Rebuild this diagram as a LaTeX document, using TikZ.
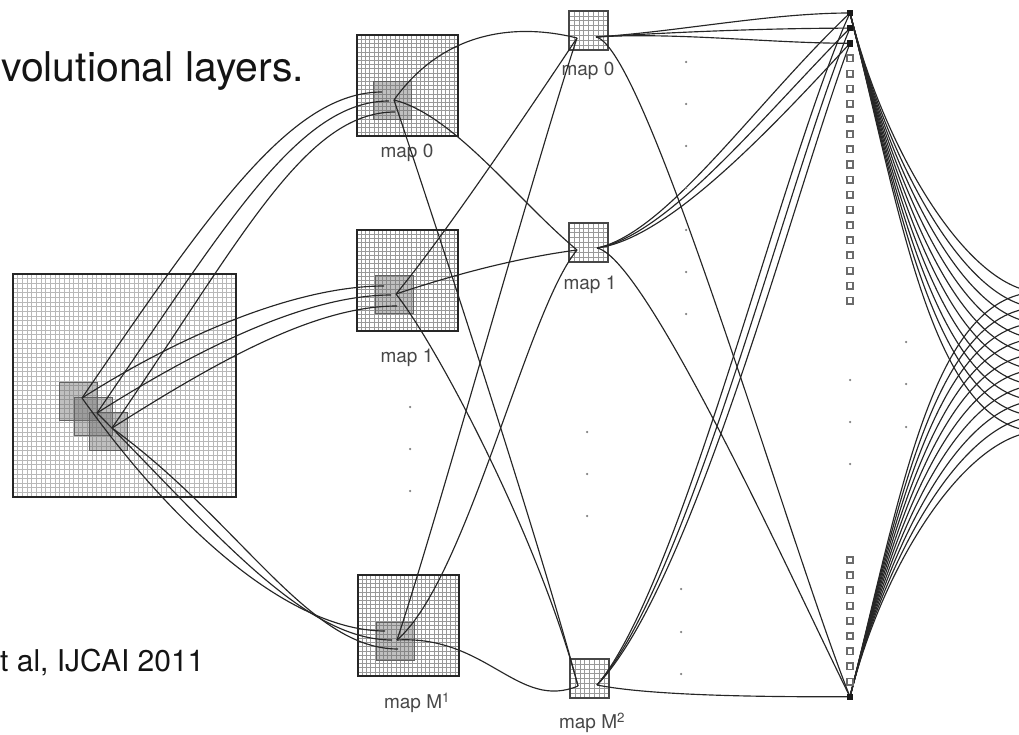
\documentclass[tikz,border=0pt]{standalone}
\usepackage{fontspec}
\setmainfont{TeX Gyre Heros}

% square filled with a fine grid: x0, y0, side, cells, line colour
\newcommand\gridsq[5]{%
  \pgfmathsetmacro\gstep{#3/#4}%
  \foreach \k in {1,...,#4}{%
    \draw[gridline, draw=#5] ({#1+\k*\gstep},#2) -- ({#1+\k*\gstep},{#2+#3});
    \draw[gridline, draw=#5] (#1,{#2+\k*\gstep}) -- ({#1+#3},{#2+\k*\gstep});
  }%
}

\begin{document}
\begin{tikzpicture}[x=1pt,y=-1pt,
  conn/.style={draw=black!85, line width=1.15pt},
  mapframe/.style={draw=black!85, line width=2.2pt},
  smallframe/.style={draw=black!72, line width=1.2pt},
  gridline/.style={line width=0.5pt},
  field/.style={fill=black!55, fill opacity=0.45, draw=black!62, line width=0.8pt},
  lbl/.style={text=black!72, inner sep=0pt, font=\fontsize{19}{19}\selectfont},
  gap/.style={fill=black!50, circle, inner sep=0pt, minimum size=2.5pt},
  unit/.style={draw=black!58, line width=1.6pt, fill=white, inner sep=0pt, minimum size=6.5pt},
  active/.style={fill=black!90, inner sep=0pt, minimum size=6.5pt},
]
\path[use as bounding box] (0,0) rectangle (1019,735);
\clip (0,0) rectangle (1019,735);

% ---------- texts ----------
\node[anchor=base west, inner sep=0pt, text=black!92, font=\fontsize{41}{41}\selectfont] (title) at (1,82) {volutional layers.};
\node[anchor=base west, inner sep=0pt, text=black!92, font=\fontsize{30}{30}\selectfont] (cite) at (0,671) {t al, IJCAI 2011};

% ---------- input image ----------
\gridsq{13}{274}{223}{48}{black!28}
\draw[mapframe] (13,274) rectangle (236,497);
\draw[field] (59,382) rectangle +(38,38);
\draw[field] (74,397) rectangle +(38,38);
\draw[field] (89,412) rectangle +(38,38);

% ---------- first convolutional layer ----------
\gridsq{357}{35}{101}{24}{black!40}
\draw[mapframe] (357,35) rectangle +(101,101);
\draw[field] (373,81) rectangle +(38,38);
\gridsq{357}{230}{101}{24}{black!40}
\draw[mapframe] (357,230) rectangle +(101,101);
\draw[field] (375,275) rectangle +(38,38);
\gridsq{358}{575}{101}{24}{black!40}
\draw[mapframe] (358,575) rectangle +(101,101);
\draw[field] (376,622) rectangle +(38,38);

\node[lbl] (la0) at (407,153) {map 0};
\node[lbl] (la1) at (407,358) {map 1};
\node[lbl] (laM) at (417,703) {map M\textsuperscript{1}};

% ---------- second convolutional layer ----------
\gridsq{569}{11}{39}{8}{black!40}
\draw[smallframe] (569,11) rectangle +(39,39);
\gridsq{569}{223}{39}{8}{black!40}
\draw[smallframe] (569,223) rectangle +(39,39);
\gridsq{570}{659}{39}{8}{black!40}
\draw[smallframe] (570,659) rectangle +(39,39);

\node[lbl] (lb0) at (588,71) {map 0};
\node[lbl] (lb1) at (590,285) {map 1};
\node[lbl] (lbM) at (592,723) {map M\textsuperscript{2}};

% ---------- connection points ----------
\coordinate (e1) at (82,398);
\coordinate (e2) at (97,413);
\coordinate (e3) at (112,428);

\coordinate (a0t1) at (382,92);  \coordinate (a0t2) at (389,101);
\coordinate (a0t3) at (395,112); \coordinate (a0s) at (394,100);
\coordinate (a1t1) at (384,286); \coordinate (a1t2) at (391,295);
\coordinate (a1t3) at (397,306); \coordinate (a1s) at (396,294);
\coordinate (aMt1) at (385,631); \coordinate (aMt2) at (392,640);
\coordinate (aMt3) at (398,649); \coordinate (aMs) at (397,640);

\coordinate (b0u) at (577,38);  \coordinate (b0v) at (596,37);
\coordinate (b1u) at (577,250); \coordinate (b1v) at (597,248);
\coordinate (bMu) at (578,686); \coordinate (bMv) at (597,685);

\foreach \k in {0,...,9}{\coordinate (r\k) at (1040,{292+15.5*\k});}

% ---------- input -> first layer ----------
\foreach \i in {1,2,3}{
  \draw[conn] (e\i) .. controls +(130,-190) and +(-90,0) .. (a0t\i);
  \draw[conn] (e\i) .. controls +(110,-70) and +(-80,0) .. (a1t\i);
}
\draw[conn] (e1) .. controls +(100,140) and +(-90,0) .. (aMt1);
\draw[conn] (e2) .. controls +(115,115) and +(-90,0) .. (aMt2);
\draw[conn] (e3) .. controls +(130,95) and +(-90,0) .. (aMt3);

% ---------- first -> second layer ----------
\draw[conn] (a0s) .. controls +(50,-70) and +(-60,-15) .. (b0u);
\draw[conn] (a0s) .. controls +(60,15) and +(-60,-50) .. (b1u);
\draw[conn] (a0s) .. controls +(40,120) and +(-40,-150) .. (bMu);
\draw[conn] (a1s) .. controls +(50,-60) and +(-40,60) .. (b0u);
\draw[conn] (a1s) .. controls +(60,-20) and +(-60,8) .. (b1u);
\draw[conn] (a1s) .. controls +(40,50) and +(-40,-150) .. (bMu);
\draw[conn] (aMs) .. controls +(40,-120) and +(-40,120) .. (b0u);
\draw[conn] (aMs) .. controls +(70,-60) and +(-50,60) .. (b1u);
\draw[conn] (aMs) .. controls +(90,-5) and +(-60,25) .. (bMu);

% ---------- output units ----------
\foreach \k in {0,...,19}{\coordinate (o\k) at (850,{13+15.15*\k});}
\foreach \k in {0,...,9}{\coordinate (p\k) at (850,{560+15.2*\k});}

% second layer -> output units
\foreach \k/\d in {0/0,1/6,2/12}{
  \draw[conn] (b0v) .. controls +(80,-5) and +(-80,0) .. (o\k);
  \draw[conn] (b1v) .. controls +(70,{-15+\d/2}) and +({-95+\d},90) .. (o\k);
  \draw[conn] (bMv) .. controls +({85+\d},-100) and +({-65+\d},140) .. (o\k);
}
\draw[conn] (b0v) .. controls +(50,10) and +(-60,-150) .. (p9);
\draw[conn] (b1v) .. controls +(50,10) and +(-50,-100) .. (p9);
\draw[conn] (bMv) .. controls +(60,12) and +(-60,0) .. (p9);

% output units -> next layer (longer curves get longer control arms)
\foreach \k in {0,...,9}{
  \pgfmathsetmacro\ta{35+2*\k}\pgfmathsetmacro\tb{140+8*\k}\pgfmathsetmacro\tc{-70-4*\k}
  \pgfmathsetmacro\ba{35+2*(9-\k)}\pgfmathsetmacro\bb{-140-8*(9-\k)}\pgfmathsetmacro\bc{-70-4*(9-\k)}
  \draw[conn] (o0) .. controls +(\ta,\tb) and +(\tc,0) .. (r\k);
  \draw[conn] (p9) .. controls +(\ba,\bb) and +(\bc,0) .. (r\k);
}

% unit markers
\foreach \k in {3,...,19}{\node[unit] (uo\k) at (o\k) {};}
\foreach \k in {0,1,2}{\node[active] (ao\k) at (o\k) {};}
\foreach \k in {0,...,8}{\node[unit] (up\k) at (p\k) {};}
\node[active] (ap9) at (p9) {};

% ---------- ellipsis dots ----------
\foreach \y in {407,449,491}{\node[gap] at (410,\y) {};}
\foreach \y in {432,474,516}{\node[gap] at (587,\y) {};}
\foreach \y in {62,104,146,188,230,272,314}{\node[gap] at (686,\y) {};}
\foreach \y in {589,632,674}{\node[gap] at (681,\y) {};}
\foreach \y in {380,422,464}{\node[gap] at (850,\y) {};}
\foreach \y in {342,384,427}{\node[gap] at (906,\y) {};}
\end{tikzpicture}
\end{document}
